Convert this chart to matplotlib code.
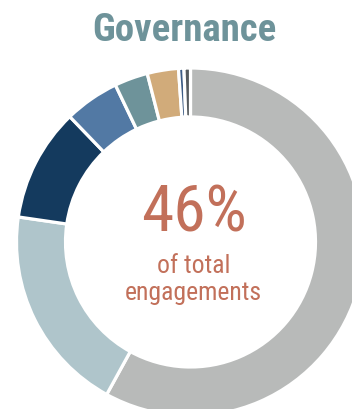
import matplotlib
matplotlib.use("Agg")
import matplotlib.pyplot as plt
from matplotlib import font_manager

# Governance engagement breakdown (share of the ring, %)
categories = ["Other", "Board structure", "Remuneration", "Shareholder rights",
              "Audit", "Disclosure", "Ethics", "Other governance"]
shares = [58.0, 19.3, 10.5, 5.1, 3.1, 2.9, 0.5, 0.6]
colors = ["#B8BAB9", "#AFC5CB", "#143A5E", "#5279A4",
          "#6E939A", "#D1AB7A", "#3D5C85", "#555A5E"]

title = "Governance"
headline = "46%"
caption_lines = ["of total", "engagements"]

names = {f.name for f in font_manager.fontManager.ttflist}
family = next((n for n in ["Roboto Condensed", "Archivo Narrow", "Liberation Sans"]
               if n in names), "DejaVu Sans")

W, H = 352, 409
fig = plt.figure(figsize=(W / 100, H / 100), dpi=100)
ax = fig.add_axes([0, 0, 1, 1])

outer_r = 174
ring_w = 49
cx, cy = 190.5, H - 242

ax.pie(shares, colors=colors, startangle=90, counterclock=False,
       radius=outer_r, center=(cx, cy),
       wedgeprops=dict(width=ring_w, edgecolor="white", linewidth=2.3))
ax.set_xlim(0, W)
ax.set_ylim(0, H)
ax.set_aspect("equal")
ax.axis("off")

ax.text(184, H - 41, title, ha="center", va="baseline", family=family,
        fontweight="bold", fontsize=28, color="#6E939A")
ax.text(194, H - 232, headline, ha="center", va="baseline", family=family,
        fontsize=47, color="#C2705A")
for text, base in zip(caption_lines, [273, 300]):
    ax.text(193.5, H - base, text, ha="center", va="baseline", family=family,
            fontsize=18.5, color="#C2705A")

fig.savefig("out.png", dpi=100)
